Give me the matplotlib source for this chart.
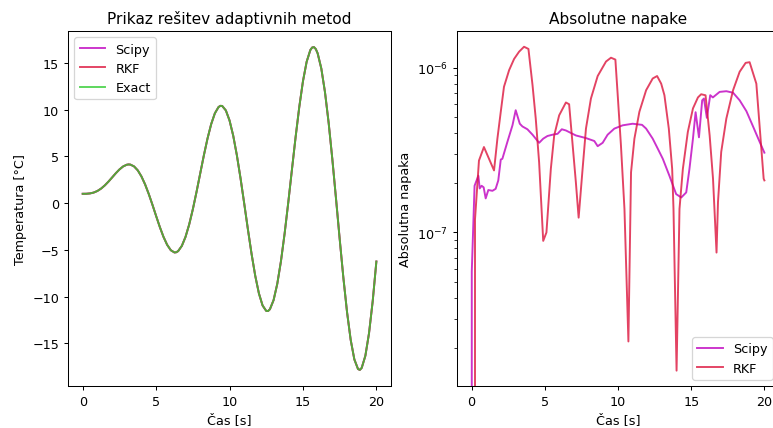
import numpy as np
import matplotlib
matplotlib.use("Agg")
import matplotlib.pyplot as plt

# ─── Data ────────────────────────────────────────────────────────────────────
t_sol = [
    0.0, 0.25, 0.5, 0.75, 1.0, 1.25, 1.5, 1.75, 2.0, 2.25,
    2.5, 2.75, 3.0, 3.125, 3.25, 3.5, 3.75, 4.0, 4.25, 4.5, 4.75,
    5.0, 5.25, 5.5, 5.75, 6.0, 6.25, 6.375, 6.5, 6.75, 7.0, 7.25,
    7.5, 7.75, 8.0, 8.25, 8.5, 8.75, 9.0, 9.25, 9.375, 9.5, 9.75,
    10.0, 10.25, 10.5, 10.75, 11.0, 11.25, 11.5, 11.75, 12.0, 12.25,
    12.5, 12.625, 12.75, 13.0, 13.25, 13.5, 13.75, 14.0, 14.25, 14.5, 14.75,
    15.0, 15.25, 15.5, 15.625, 15.75, 15.875, 16.0, 16.25, 16.5, 16.75, 17.0, 17.25,
    17.5, 17.75, 18.0, 18.25, 18.5, 18.75, 18.875, 19.0, 19.25, 19.5, 19.75,
    20.0,
]
temp_sol = [
    1.000, 1.005, 1.041, 1.133, 1.301, 1.555, 1.891, 2.296, 2.742, 3.192,
    3.601, 3.924, 4.111, 4.141, 4.123, 3.927, 3.506, 2.858, 2.001, 0.971, -0.178,
    -1.377, -2.548, -3.604, -4.460, -5.040, -5.280, -5.256, -5.133, -4.578, -3.620, -2.294,
    -0.661, 1.190, 3.153, 5.105, 6.916, 8.457, 9.612, 10.283, 10.413, 10.398, 9.919,
    8.847, 7.219, 5.113, 2.643, -0.049, -2.799, -5.433, -7.776, -9.663, -10.953,
    -11.539, -11.545, -11.353, -10.377, -8.641, -6.228, -3.266, 0.076, 3.598, 7.081, 10.302,
    13.046, 15.121, 16.373, 16.654, 16.694, 16.488, 16.035, 14.405, 11.878, 8.586, 4.716, 0.496,
    -3.816, -7.949, -11.637, -14.631, -16.724, -17.757, -17.843, -17.636, -16.337, -13.913, -10.487,
    -6.249,
]

t_scipy = [0, 0.01, 0.2, 0.46, 0.55, 0.68, 0.82, 0.96, 1.14, 1.42, 1.64, 1.82, 1.99,
           2.1, 2.44, 2.79, 3.01, 3.29, 3.47, 3.81, 4.16, 4.61, 4.89, 5.18, 5.52,
           5.87, 6.16, 6.44, 7.12, 7.81, 8.38, 8.61, 8.95, 9.29, 9.75, 10.32, 11.0,
           11.64, 11.92, 12.37, 12.72, 13.06, 13.51, 13.97, 14.32, 14.66, 14.88,
           15.12, 15.3, 15.53, 15.75, 15.87, 16.07, 16.3, 16.48, 16.94, 17.4, 17.86,
           18.31, 18.77, 19.22, 19.68, 20.0]
err_scipy = [0, 0.58, 1.92, 2.21, 1.85, 1.92, 1.88, 1.61, 1.81, 1.79, 1.84, 2.07, 2.77,
             2.8, 3.54, 4.47, 5.52, 4.57, 4.4, 4.23, 3.92, 3.5, 3.71, 3.85, 3.92,
             3.97, 4.23, 4.16, 3.88, 3.74, 3.59, 3.34, 3.5, 3.92, 4.27, 4.47, 4.57,
             4.5, 4.27, 3.71, 3.22, 2.8, 2.21, 1.71, 1.63, 1.75, 2.43,
             3.71, 5.37, 3.78, 6.34, 6.5, 4.96, 6.81, 6.6, 7.13, 7.2, 7.05,
             6.34, 5.45, 4.41, 3.54, 3.05]

t_rkf = [0, 0.23, 0.5, 0.84, 1.53, 1.76, 1.99, 2.21, 2.56, 2.9, 3.24, 3.58, 3.88,
         4.16, 4.38, 4.61, 4.89, 5.11, 5.41, 5.64, 5.98, 6.44, 6.66, 6.9, 7.12,
         7.31, 7.58, 7.81, 8.15, 8.61, 9.18, 9.52, 9.82, 9.98, 10.2, 10.44, 10.71,
         10.89, 11.12, 11.46, 11.92, 12.37, 12.67, 12.95, 13.17, 13.47, 13.7, 13.79,
         14.0, 14.2, 14.43, 14.77, 15.12, 15.46, 15.68, 15.98, 16.26, 16.49, 16.73,
         16.83, 17.05, 17.4, 17.86, 18.31, 18.72, 18.99, 19.45, 19.95, 20.0]
err_rkf = [0, 1.2, 2.73, 3.3, 2.38, 3.71, 5.4, 7.66, 9.66, 11.3, 12.5, 13.4, 13.0,
           7.84, 4.91, 2.67, 0.889, 1.0, 2.43, 3.88, 5.14, 6.15, 6.0, 3.4, 2.02,
           1.23, 2.43, 4.27, 6.5, 8.9, 10.9, 11.5, 11.2, 6.81, 3.38, 1.39, 0.218,
           2.32, 3.71, 5.4, 7.3, 8.6, 8.9, 8.0, 6.81, 4.27, 2.43, 1.39,
           0.145, 1.39, 2.43, 4.08, 5.66, 6.6, 6.9, 6.8, 3.88, 2.12, 0.755,
           1.53, 3.08, 4.91, 7.3, 9.45, 10.7, 10.8, 8.0, 2.12, 2.07]

# ─── Figure ──────────────────────────────────────────────────────────────────
# the reference looks rendered a bit larger and scaled down, so use dpi 92
DPI = 92
fig = plt.figure(figsize=(773 / DPI, 429 / DPI), dpi=DPI)
ax1 = fig.add_axes([0.0880, 0.0979, 0.4179, 0.8275])
ax2 = fig.add_axes([0.5912, 0.0979, 0.4166, 0.8275])

# Left: solutions
ax1.plot(t_sol, temp_sol, color="m", alpha=0.8, label="Scipy")
ax1.plot(t_sol, temp_sol, color="crimson", alpha=0.8, label="RKF")
ax1.plot(t_sol, temp_sol, color="limegreen", alpha=0.8, label="Exact")
ax1.set_title("Prikaz rešitev adaptivnih metod")
ax1.set_xlabel("Čas [s]")
ax1.set_ylabel("Temperatura [°C]")
ax1.legend(loc="upper left")

# Right: absolute errors
ax2.plot(t_scipy, np.array(err_scipy) * 1e-7, color="m", alpha=0.8, label="Scipy")
ax2.plot(t_rkf, np.array(err_rkf) * 1e-7, color="crimson", alpha=0.8, label="RKF")
ax2.set_yscale("log")
ax2.set_xlim(-1, 21)
ax2.set_ylim(1.17e-8, 1.67e-6)
ax2.set_title("Absolutne napake")
ax2.set_xlabel("Čas [s]")
ax2.set_ylabel("Absolutna napaka")
ax2.legend(loc="lower right")

fig.savefig("out.png", dpi=DPI)
